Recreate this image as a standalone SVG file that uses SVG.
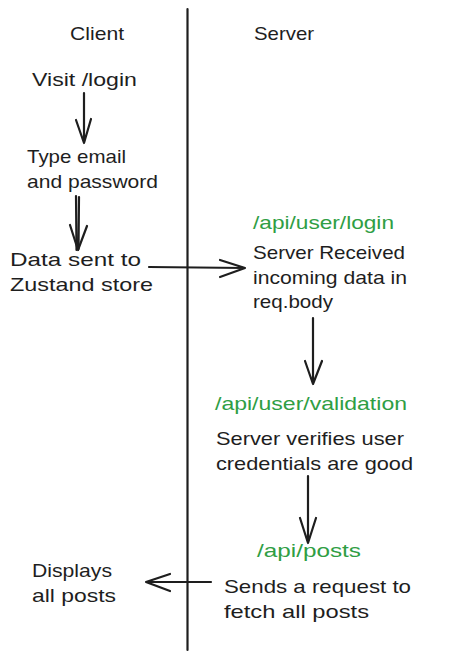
<svg xmlns="http://www.w3.org/2000/svg" width="474" height="660" viewBox="0 0 474 660">
<style>
text{font-family:"Liberation Sans","DejaVu Sans",sans-serif;font-size:19px;fill:#1e1e1e}
.g{fill:#2f9e44}
.c{fill:none;stroke:#1e1e1e;stroke-width:2.2;stroke-linecap:round;stroke-linejoin:round}
</style>
<rect width="474" height="660" fill="#ffffff"/>
<g id="divider"><path class="c" d="M187.5 9 L187.5 650" stroke-width="2.5"/></g>
<g id="client-header"><text x="70" y="40" textLength="54" lengthAdjust="spacingAndGlyphs">Client</text></g>
<g id="server-header"><text x="254" y="40" textLength="60" lengthAdjust="spacingAndGlyphs">Server</text></g>
<g id="visit-login"><text x="32" y="86" textLength="105" lengthAdjust="spacingAndGlyphs">Visit /login</text></g>
<g id="type-email"><text x="27" y="163" textLength="99" lengthAdjust="spacingAndGlyphs">Type email</text><text x="27" y="188" textLength="131" lengthAdjust="spacingAndGlyphs">and password</text></g>
<g id="data-sent"><text x="10" y="266" textLength="131" lengthAdjust="spacingAndGlyphs">Data sent to</text><text x="10" y="291" textLength="143" lengthAdjust="spacingAndGlyphs">Zustand store</text></g>
<g id="login-endpoint"><text class="g" x="253" y="229" textLength="141" lengthAdjust="spacingAndGlyphs">/api/user/login</text><text x="253" y="259" textLength="152" lengthAdjust="spacingAndGlyphs">Server Received</text><text x="253" y="284" textLength="154" lengthAdjust="spacingAndGlyphs">incoming data in</text><text x="253" y="308" textLength="80" lengthAdjust="spacingAndGlyphs">req.body</text></g>
<g id="validation-endpoint"><text class="g" x="215" y="410" textLength="192" lengthAdjust="spacingAndGlyphs">/api/user/validation</text><text x="216" y="445" textLength="188" lengthAdjust="spacingAndGlyphs">Server verifies user</text><text x="216" y="470" textLength="197" lengthAdjust="spacingAndGlyphs">credentials are good</text></g>
<g id="posts-endpoint"><text class="g" x="257" y="557" textLength="104" lengthAdjust="spacingAndGlyphs">/api/posts</text><text x="224" y="593" textLength="187" lengthAdjust="spacingAndGlyphs">Sends a request to</text><text x="224" y="618" textLength="145" lengthAdjust="spacingAndGlyphs">fetch all posts</text></g>
<g id="displays-posts"><text x="32" y="577" textLength="80" lengthAdjust="spacingAndGlyphs">Displays</text><text x="32" y="602" textLength="84" lengthAdjust="spacingAndGlyphs">all posts</text></g>
<g id="connectors">
<path class="c" d="M84 93 L84 143 M76 120 L84 143 L91 119"/>
<path class="c" stroke-width="1.4" d="M76 196 L76.5 250 M79 197 L78.5 249"/>
<path class="c" d="M70 225 L78 250 L87 226"/>
<path class="c" d="M149 267 L245 268 M220 260 L245 268 L220 277"/>
<path class="c" d="M313 318 L313 384 M305 361 L313 384 L322 361"/>
<path class="c" d="M308 476 L308 543 M300 518 L308 543 L316 518"/>
<path class="c" d="M211 582 L146 582 M170 574 L146 582 L170 591"/>
</g>
</svg>
